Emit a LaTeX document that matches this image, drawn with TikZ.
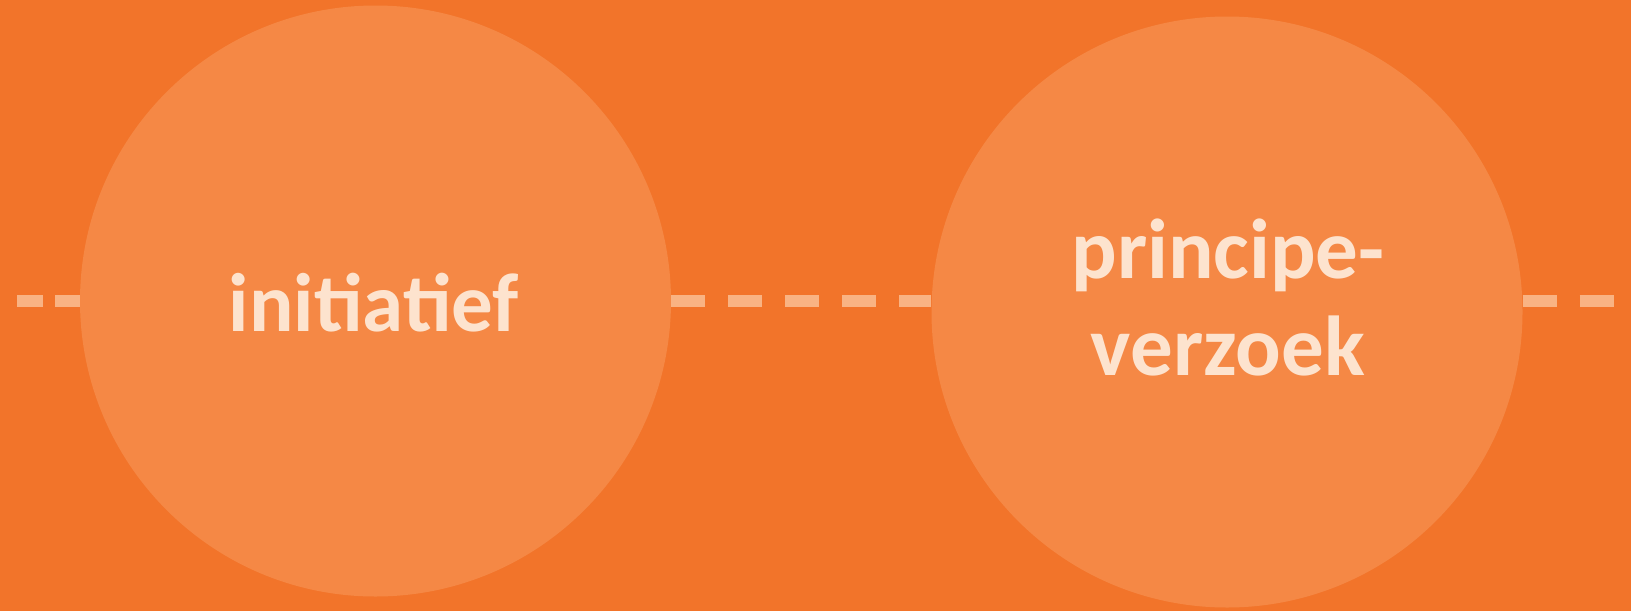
\documentclass[tikz,border=0pt]{standalone}
\usepackage{fontspec}
\setmainfont{Carlito}
\definecolor{bgorange}{HTML}{F2742A}
\definecolor{circorange}{HTML}{F58845}
\definecolor{dashcol}{HTML}{F9B383}
\definecolor{txtcol}{HTML}{FDE3CE}
\tikzset{
  bubble/.style={circle, fill=circorange, draw=none, minimum size=591pt, inner sep=0pt},
  label text/.style={text=txtcol, font=\fontsize{83}{97}\selectfont\bfseries, inner sep=0pt, align=center},
  big label text/.style={label text, font=\fontsize{85}{97}\selectfont\bfseries},
  dashline/.style={draw=dashcol, line width=12pt},
}
\begin{document}
\begin{tikzpicture}[x=1pt,y=-1pt]
\fill[bgorange] (0,0) rectangle (1631,611);
\useasboundingbox (0,0) rectangle (1631,611);
\node[bubble] (c1) at (375.5,301) {};
\node[bubble] (c2) at (1227,312) {};
\coordinate (lstart) at (17,301);
\coordinate (rend) at (1631,301);
\draw[dashline, dash pattern=on 26pt off 12pt] (lstart) -- (c1.west);
\draw[dashline, dash pattern=on 34pt off 23pt] (c1.east) -- (c1.east -| c2.west);
\draw[dashline, dash pattern=on 34pt off 23pt] (c2.east |- rend) -- (rend);
\node[label text, anchor=base] (t1) at (374,331) {initiatief};
\node[big label text, anchor=base] (t2) at (1228,375) {principe-\\verzoek};
\end{tikzpicture}
\end{document}
